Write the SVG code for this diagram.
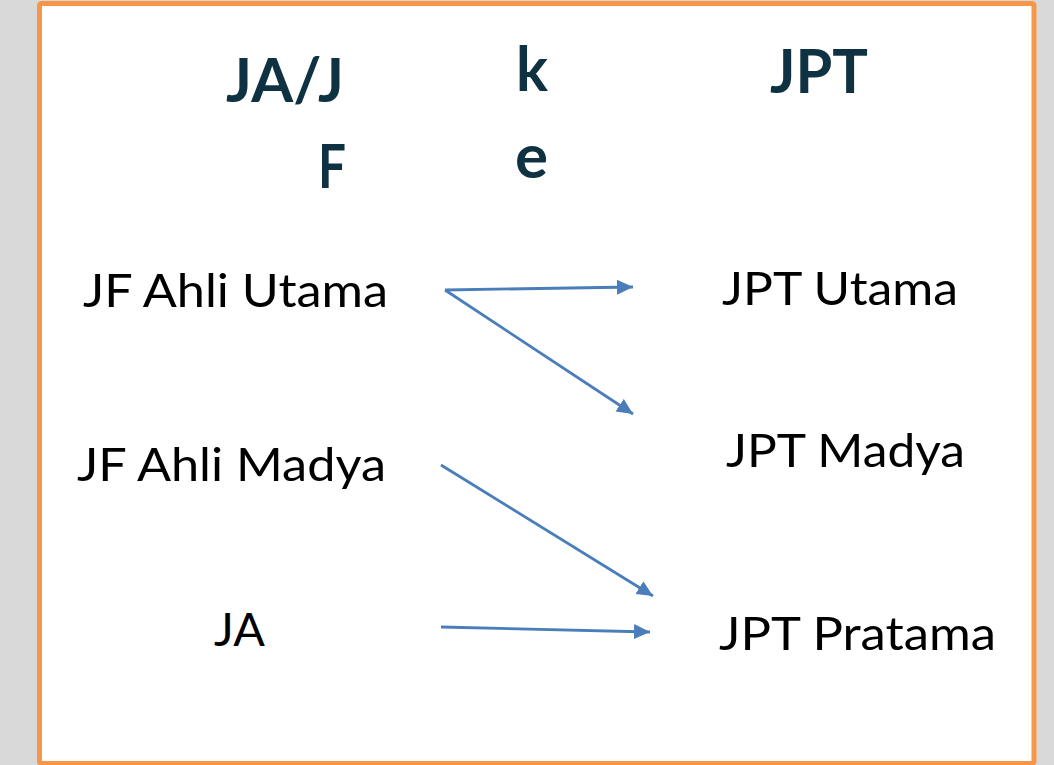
<svg xmlns="http://www.w3.org/2000/svg" width="1054" height="765" viewBox="0 0 1054 765">
  <style>
    .title { font-family: Lato, "Open Sans", "Liberation Sans", sans-serif; font-weight: 700; font-size: 62px; fill: #0f3242; }
    .label { font-family: Lato, "Liberation Sans", sans-serif; font-size: 47px; fill: #000000; }
    .link { stroke: #4a7ebb; stroke-width: 2.8; fill: none; marker-end: url(#head); }
  </style>
  <defs>
    <marker id="head" markerUnits="userSpaceOnUse" markerWidth="17" markerHeight="16" refX="16" refY="7.5" orient="auto">
      <path d="M0,0 L16,7.5 L0,15 Z" fill="#4a7ebb"/>
    </marker>
  </defs>

  <!-- page background and framed panel -->
  <rect x="0" y="0" width="1054" height="765" fill="#d9d9d9"/>
  <rect x="39.5" y="3.5" width="994.5" height="760" rx="2" fill="#ffffff" stroke="#f79646" stroke-width="5"/>

  <!-- column headings -->
  <g id="head-from">
    <text class="title" x="226" y="102" textLength="118" lengthAdjust="spacingAndGlyphs">JA/J</text>
    <text class="title" x="318" y="188" textLength="28" lengthAdjust="spacingAndGlyphs">F</text>
  </g>
  <g id="head-ke">
    <text class="title" x="516" y="91" textLength="32" lengthAdjust="spacingAndGlyphs">k</text>
    <text class="title" x="515" y="178" textLength="33" lengthAdjust="spacingAndGlyphs">e</text>
  </g>
  <g id="head-to">
    <text class="title" x="770" y="93" textLength="98" lengthAdjust="spacingAndGlyphs">JPT</text>
  </g>

  <!-- source positions -->
  <g id="jf-ahli-utama">
    <text class="label" x="83" y="307" textLength="305" lengthAdjust="spacingAndGlyphs">JF Ahli Utama</text>
  </g>
  <g id="jf-ahli-madya">
    <text class="label" x="77" y="481" textLength="309" lengthAdjust="spacingAndGlyphs">JF Ahli Madya</text>
  </g>
  <g id="ja">
    <text class="label" x="214" y="646" textLength="51" lengthAdjust="spacingAndGlyphs">JA</text>
  </g>

  <!-- target positions -->
  <g id="jpt-utama">
    <text class="label" x="722" y="305" textLength="236" lengthAdjust="spacingAndGlyphs">JPT Utama</text>
  </g>
  <g id="jpt-madya">
    <text class="label" x="726" y="467" textLength="239" lengthAdjust="spacingAndGlyphs">JPT Madya</text>
  </g>
  <g id="jpt-pratama">
    <text class="label" x="719" y="650" textLength="277" lengthAdjust="spacingAndGlyphs">JPT Pratama</text>
  </g>

  <!-- promotion paths -->
  <g id="connectors">
    <line class="link" x1="445" y1="290" x2="633" y2="287"/>
    <line class="link" x1="445" y1="290" x2="633" y2="414"/>
    <line class="link" x1="441" y1="465" x2="653" y2="596"/>
    <line class="link" x1="441" y1="627" x2="650" y2="632"/>
  </g>
</svg>
